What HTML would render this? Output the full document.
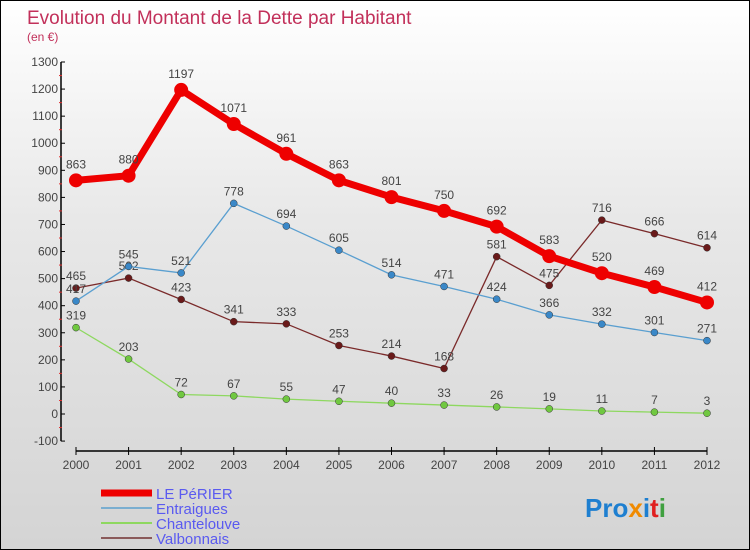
<!DOCTYPE html>
<html><head><meta charset="utf-8"><style>
body{margin:0;}
#wrap{width:748px;height:548px;border:1px solid #000;background:linear-gradient(#fff 0%,#e8e8e8 40%,#d4d4d4 100%);position:relative;overflow:hidden;font-family:"Liberation Sans",sans-serif;}
svg text{font-family:"Liberation Sans",sans-serif;}
</style></head><body>
<div id="wrap">
<svg id="chart" width="748" height="548">
<text x="26" y="23" font-size="19" fill="#c2305a">Evolution du Montant de la Dette par Habitant</text>
<text x="26" y="40" font-size="12" fill="#c2305a">(en €)</text>
<g id="axes"></g><g id="series"></g><g id="legend"></g>
<text x="584" y="516" font-size="26" font-weight="bold"><tspan fill="#1e7fd0">Pro</tspan><tspan fill="#f08a00">x</tspan><tspan fill="#1e7fd0">i</tspan><tspan fill="#e02020">t</tspan><tspan fill="#40a040">i</tspan></text>
</svg>
</div>
<script>
const years=[2000,2001,2002,2003,2004,2005,2006,2007,2008,2009,2010,2011,2012];
const yTicks=[-100,0,100,200,300,400,500,600,700,800,900,1000,1100,1200,1300];
const perier=[863,880,1197,1071,961,863,801,750,692,583,520,469,412];
const entraigues=[417,545,521,778,694,605,514,471,424,366,332,301,271];
const chantelouve=[319,203,72,67,55,47,40,33,26,19,11,7,3];
const valbonnais=[465,502,423,341,333,253,214,168,581,475,716,666,614];
const names=['LE PéRIER','Entraigues','Chantelouve','Valbonnais'];
const NS='http://www.w3.org/2000/svg';
const X=i=>75+i*(706-75)/(years.length-1);
const Y=v=>413-v*(413-61)/1300;
function mk(t,a,p){const e=document.createElementNS(NS,t);for(const k in a)e.setAttribute(k,a[k]);p.appendChild(e);return e;}
const ax=document.getElementById('axes');
let yl=mk('line',{x1:60,y1:Y(1300),x2:60,y2:Y(-100),stroke:'#000','stroke-width':1.5},ax);


yTicks.forEach(v=>{
 mk('line',{x1:60,y1:Y(v),x2:64,y2:Y(v),stroke:'#000'},ax);
 if(v<1300)mk('line',{x1:58,y1:Y(v+50),x2:61,y2:Y(v+50),stroke:'#e03030'},ax);
 const t=mk('text',{x:57,y:Y(v)+4,'font-size':12,fill:'#444','text-anchor':'end'},ax);t.textContent=v;
 
 
});
let xl=mk('line',{x1:75,y1:450,x2:706,y2:450,stroke:'#000','stroke-width':1.5},ax);


years.forEach((y,i)=>{
 mk('line',{x1:X(i),y1:446,x2:X(i),y2:454,stroke:'#000'},ax);
 const t=mk('text',{x:X(i),y:468,'font-size':12,fill:'#444','text-anchor':'middle'},ax);t.textContent=y;
 
 
});
const sg=document.getElementById('series');
const defs=[[valbonnais,'#7a2a2a','#6a1a1a',1.3,3.5,'valbonnais'],[chantelouve,'#8ed860','#70c840',1.3,3.5,'chantelouve'],[entraigues,'#5a9fd0','#3a88c8',1.3,3.5,'entraigues'],[perier,'#ee0000','#ee0000',7,7,'le-perier']];
defs.forEach(([d,c,fc,w,r,n])=>{
 const g=mk('g',{},sg);
 
 
 mk('polyline',{points:d.map((v,i)=>X(i)+','+Y(v)).join(' '),fill:'none',stroke:c,'stroke-width':w},g);
 d.forEach((v,i)=>{
  const p=mk('circle',{cx:X(i),cy:Y(v),r:r,fill:fc,stroke:'#333','stroke-width':n==='le-perier'?0:0.5},g);
  
  
  const t=mk('text',{x:X(i),y:Y(v)-(n==='le-perier'?12:8),'font-size':12,fill:'#444','text-anchor':'middle'},g);t.textContent=v;
  
  
 });
});
const lg=document.getElementById('legend');
const lc=['#ee0000','#7aaed0','#8ed860','#8a5a5a'],lw=[7,2,2,2];
names.forEach((n,i)=>{
 const y=492+i*15;
 const g=mk('g',{},lg);
 
 
 mk('line',{x1:100,y1:y,x2:151,y2:y,stroke:lc[i],'stroke-width':lw[i]},g);
 const t=mk('text',{x:155,y:y+6,'font-size':15,fill:'#5a5af0'},g);t.textContent=n;
});
</script>
</body></html>
